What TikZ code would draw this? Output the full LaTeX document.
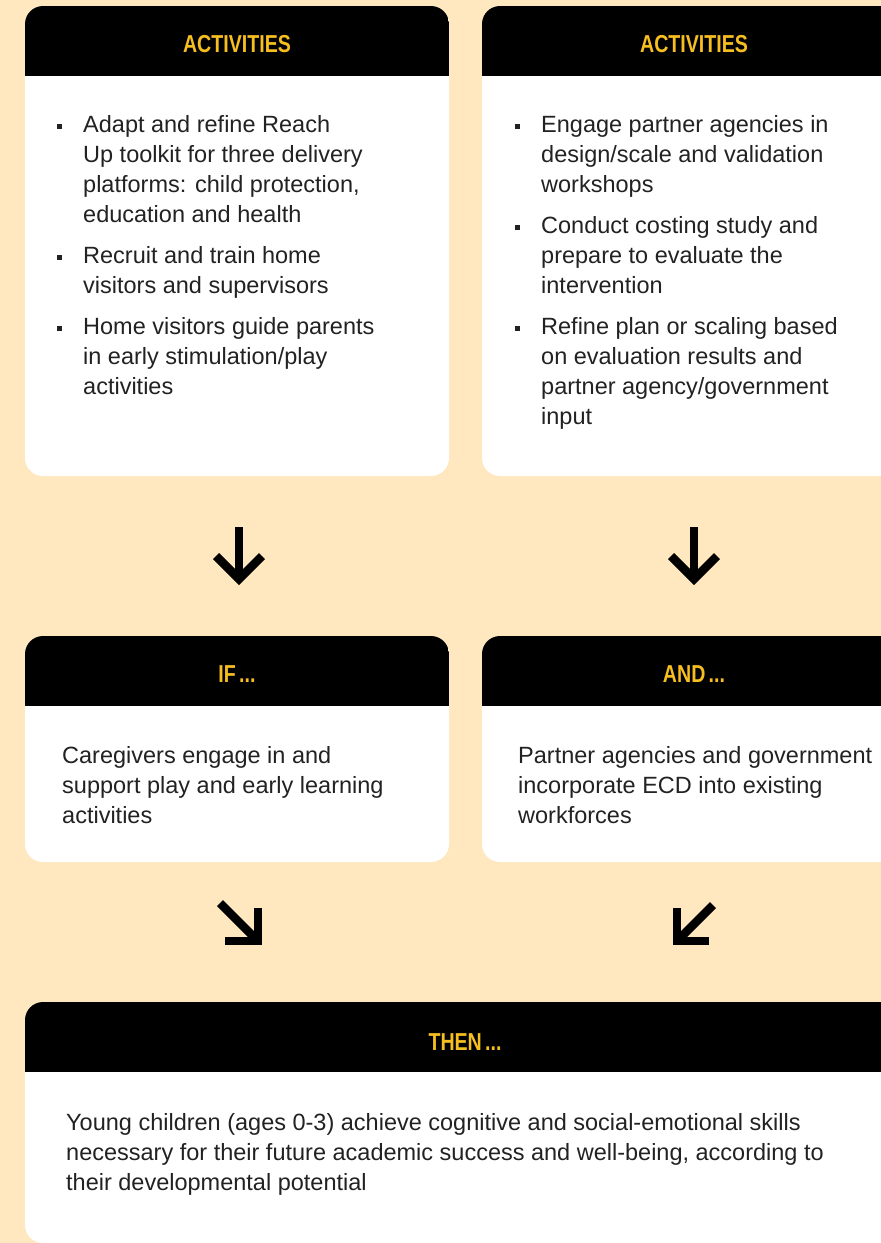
\documentclass[tikz,border=0pt]{standalone}
\usepackage{fontspec}
\setmainfont{Liberation Sans}
\usetikzlibrary{calc}

\definecolor{peach}{HTML}{FFE8BF}
\definecolor{gold}{HTML}{F6BE1F}
\definecolor{ink}{HTML}{222222}

\newcommand{\bul}{\makebox[26pt][l]{\rule[3pt]{5pt}{5pt}}}
\newcommand{\ind}{\hspace*{26pt}}

\tikzset{
    card/.style={fill=white, rounded corners=18pt, inner sep=0pt,
        path picture={\fill[black, sharp corners] (path picture bounding box.north west)
            rectangle ([yshift=-70pt]path picture bounding box.north east);}},
    head/.style={anchor=base, text=gold, inner sep=0pt,
        font=\fontsize{24.5}{28}\selectfont\bfseries},
    body/.style={anchor=north west, align=left, text=ink, inner sep=0pt,
        font=\fontsize{23.5}{30}\selectfont},
    arrowline/.style={line width=8.5pt, black}
}

\begin{document}
\begin{tikzpicture}[x=1pt, y=-1pt]
                \useasboundingbox (0,0) rectangle (881,1243);
                \clip (0,0) rectangle (881,1243);
                \fill[peach] (0,0) rectangle (881,1243);

                \node[card, minimum width=424pt, minimum height=470pt] (act1) at (237,241) {};
                \node[card, minimum width=424pt, minimum height=470pt] (act2) at (694,241) {};
                \node[card, minimum width=424pt, minimum height=226pt] (if) at (237,749) {};
                \node[card, minimum width=424pt, minimum height=226pt] (and) at (694,749) {};
                \node[card, minimum width=880pt, minimum height=241pt] (then) at (465,1122.5) {};

                \node[head] (h1) at ([yshift=-47pt]act1.north) {\scalebox{0.8}[1]{ACTIVITIES}};
                \node[head] (h2) at ([yshift=-47pt]act2.north) {\scalebox{0.8}[1]{ACTIVITIES}};
                \node[head] (h3) at ([yshift=-47pt]if.north) {\scalebox{0.8}[1]{IF\,...}};
                \node[head] (h4) at ([yshift=-47pt]and.north) {\scalebox{0.8}[1]{AND\,...}};
                \node[head] (h5) at (465,1050) {\scalebox{0.8}[1]{THEN\,...}};

                \node[body] (t1) at (57,111) {\strut\bul Adapt and refine Reach\\
                    \ind Up toolkit for three delivery\\
                    \ind platforms: child protection,\\
                    \ind education and health\\[11pt]
                    \bul Recruit and train home\\
                    \ind visitors and supervisors\\[11pt]
                    \bul Home visitors guide parents\\
                    \ind in early stimulation/play\\
                    \ind activities};
                \node[body] (t2) at (515,111) {\strut\bul Engage partner agencies in\\
                    \ind design/scale and validation\\
                    \ind workshops\\[11pt]
                    \bul Conduct costing study and\\
                    \ind prepare to evaluate the\\
                    \ind intervention\\[11pt]
                    \bul Refine plan or scaling based\\
                    \ind on evaluation results and\\
                    \ind partner agency/government\\
                    \ind input};
                \node[body] (t3) at (62,742) {\strut Caregivers engage in and\\
                    support play and early learning\\
                    activities};
                \node[body] (t4) at (518,742) {\strut Partner agencies and government\\
                    incorporate ECD into existing\\
                    workforces};
                \node[body] (t5) at (66,1109) {\strut Young children (ages 0-3) achieve cognitive and social-emotional skills\\
                    necessary for their future academic success and well-being, according to\\
                    their developmental potential};

                \coordinate (d1a) at (239,527);
                \coordinate (d1b) at (239,579);
                \coordinate (d2a) at (694,527);
                \coordinate (d2b) at (694,579);
                \coordinate (s1a) at (220,903);
                \coordinate (s1b) at (258,941);
                \coordinate (s2a) at (713,905);
                \coordinate (s2b) at (677,941);

                \draw[arrowline] (d1a) -- (d1b);
                \draw[arrowline] ($(d1b)+(-23,-23)$) -- (d1b) -- ($(d1b)+(23,-23)$);
                \draw[arrowline] (d2a) -- (d2b);
                \draw[arrowline] ($(d2b)+(-23,-23)$) -- (d2b) -- ($(d2b)+(23,-23)$);
                \draw[arrowline] (s1a) -- (s1b);
                \draw[arrowline] ($(s1b)+(-33,0)$) -- (s1b) -- ($(s1b)+(0,-33)$);
                \draw[arrowline] (s2a) -- (s2b);
                \draw[arrowline] ($(s2b)+(32,0)$) -- (s2b) -- ($(s2b)+(0,-33)$);
            \end{tikzpicture}
\end{document}
